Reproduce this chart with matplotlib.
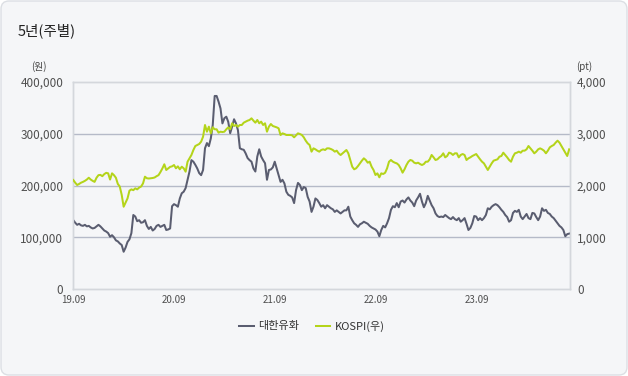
import matplotlib
matplotlib.use('Agg')
import matplotlib.pyplot as plt
import pandas as pd
from matplotlib.patches import FancyBboxPatch
from matplotlib.ticker import FuncFormatter

plt.rcParams['font.family'] = ['Noto Sans CJK KR', 'DejaVu Sans']

# weekly closes, 대한유화 in thousand won, KOSPI in points
stock_k = [133, 128, 124, 126, 123, 122, 124, 121, 122, 119,
           117, 118, 121, 124, 121, 117, 113, 111, 108, 101,
           104, 100, 94, 92, 88, 85, 72, 80, 91, 96,
           108, 143, 140, 131, 133, 128, 129, 133, 122, 116,
           120, 113, 116, 122, 124, 120, 122, 124, 114, 115,
           117, 160,
           164, 162, 159, 175, 185, 188, 195, 211, 227, 249,
           246, 240, 233, 224, 220, 230, 272, 282, 276, 291,
           317, 373, 373, 362, 349, 320, 330, 333, 323, 301,
           314, 328, 320, 307, 272, 270, 269, 262, 253, 249,
           246, 233, 227, 256, 270, 256, 249, 243, 211, 230,
           231, 235, 246,
           233, 220, 207, 211, 204, 188, 182, 180, 177, 166,
           191, 205, 201, 191, 197, 195, 178, 169, 149, 159,
           175, 172, 166, 159, 162, 156, 162, 159, 156, 154,
           149, 152, 149, 146, 149, 152, 152, 159, 140, 133,
           127, 124, 120, 125, 127, 130, 128, 126, 122, 119,
           117,
           115, 111, 102, 114, 122, 119, 127, 137, 153, 160,
           158, 166, 158, 169, 171, 167, 173, 177, 171, 167,
           160, 171, 177, 184, 169, 158, 166, 180, 171, 162,
           156, 146, 141, 139, 140, 139, 143, 140, 137, 135,
           139, 135, 133, 137, 130, 133, 137, 126, 114, 118,
           127, 141,
           140, 133, 137, 133, 137, 143, 156, 154, 159, 162,
           164, 162, 158, 153, 149, 143, 139, 130, 133, 147,
           151, 149, 153, 140, 135, 140, 145, 137, 135, 147,
           146, 139, 133, 140, 156, 151, 153, 147, 145, 140,
           137, 132, 127, 122, 119, 114, 102, 106, 107]

kospi = [2106, 2054, 2010, 2030, 2054, 2070, 2090, 2115, 2150, 2115,
         2090, 2070, 2150, 2200, 2205, 2180, 2220, 2245, 2235, 2115,
         2235, 2200, 2150, 2030, 1980, 1820, 1590, 1670, 1750, 1900,
         1925, 1910, 1945, 1925, 1960, 1980, 2040, 2170, 2140, 2135,
         2140, 2145, 2155, 2180, 2200, 2260, 2330, 2410, 2300, 2330,
         2360, 2370,
         2396, 2332, 2370, 2313, 2363, 2332, 2267, 2460, 2525, 2590,
         2686, 2763, 2783, 2802, 2847, 2943, 3169, 3040, 3137, 3008,
         3124, 3086, 3086, 3021, 3040, 3033, 3040, 3086, 3124, 3086,
         3202, 3150, 3169, 3137, 3169, 3169, 3214, 3234, 3253, 3266,
         3298, 3253, 3214, 3266, 3202, 3234, 3169, 3202, 3040, 3137,
         3188, 3150, 3137,
         3124, 3105, 2976, 3008, 2995, 2976, 2976, 2976, 2970, 2931,
         2970, 3008, 2995, 2976, 2931, 2866, 2815, 2783, 2654, 2718,
         2699, 2673, 2654, 2686, 2699, 2686, 2718, 2718, 2705, 2686,
         2654, 2673, 2621, 2589, 2621, 2654, 2686, 2621, 2493, 2364,
         2313, 2332, 2377, 2428, 2480, 2525, 2493, 2441, 2460, 2364,
         2300,
         2203, 2235, 2158, 2235, 2222, 2247, 2332, 2460, 2493, 2460,
         2441, 2428, 2396, 2332, 2248, 2313, 2396, 2460, 2493, 2480,
         2441, 2428, 2441, 2415, 2396, 2415, 2460, 2460, 2506, 2590,
         2544, 2493, 2506, 2544, 2570, 2622, 2544, 2570, 2635, 2622,
         2590, 2622, 2622, 2544, 2590, 2608, 2590, 2493, 2525, 2544,
         2570, 2590,
         2608, 2557, 2506, 2460, 2428, 2364, 2300, 2364, 2428, 2480,
         2493, 2506, 2557, 2570, 2634, 2590, 2544, 2493, 2460, 2557,
         2622, 2634, 2654, 2634, 2673, 2673, 2699, 2763, 2718, 2673,
         2622, 2654, 2699, 2718, 2699, 2673, 2622, 2673, 2737, 2763,
         2783, 2828, 2866, 2828, 2763, 2699, 2634, 2570, 2699]

tick_dates = ['2019-09-01', '2020-09-01', '2021-09-01', '2022-09-01', '2023-09-01']
tick_labels = ['19.09', '20.09', '21.09', '22.09', '23.09']
series_names = ['대한유화', 'KOSPI(우)']

dates = pd.date_range('2019-09-02', periods=len(stock_k), freq='7D')
stock = [v * 1000 for v in stock_k]

W, H = 628, 376
fig = plt.figure(figsize=(W / 100, H / 100), dpi=100)
fig.patch.set_facecolor('white')
card = FancyBboxPatch((0.01, 0.01), W / 100 - 0.02, H / 100 - 0.02,
                      boxstyle='round,pad=0,rounding_size=0.08',
                      transform=fig.dpi_scale_trans,
                      facecolor='#f5f6f8', edgecolor='#dcdfe4', lw=1,
                      zorder=-10)
fig.patches.append(card)

fig.text(18 / W, 1 - 31 / H, '5년(주별)', fontsize=10.5, color='#222222',
         va='center', ha='left')

ax = fig.add_axes([73 / W, 1 - 289 / H, 497 / W, 207 / H])
ax.set_facecolor('none')
ax2 = ax.twinx()

l1, = ax.plot(dates, stock, color='#5a5d70', lw=1.45, zorder=3)
l2, = ax2.plot(dates, kospi, color='#b4d41a', lw=1.45, zorder=3)

ax.set_xlim(pd.Timestamp('2019-09-01'), pd.Timestamp('2024-08-01'))
ax.set_ylim(0, 400000)
ax2.set_ylim(0, 4000)
ax.set_yticks([0, 100000, 200000, 300000, 400000])
ax2.set_yticks([0, 1000, 2000, 3000, 4000])
ax.yaxis.set_major_formatter(FuncFormatter(lambda v, p: f'{int(v):,}'))
ax2.yaxis.set_major_formatter(FuncFormatter(lambda v, p: f'{int(v):,}'))
ax.set_xticks(pd.to_datetime(tick_dates))
ax.set_xticklabels(tick_labels)

ax.tick_params(axis='y', length=0, pad=7, labelsize=8.5, labelcolor='#505050')
ax2.tick_params(axis='y', length=0, pad=5, labelsize=8.5, labelcolor='#505050')
ax.tick_params(axis='x', length=0, pad=4, labelsize=7, labelcolor='#505050')

for a in (ax, ax2):
    for s in a.spines.values():
        s.set_color('#d4d7dc')
        s.set_linewidth(1)

for g in [100000, 200000, 300000]:
    ax.axhline(g, color='#b5bac8', lw=1, zorder=1)

fig.text(39 / W, 1 - 67 / H, '(원)', fontsize=7, color='#444444',
         ha='center', va='center')
fig.text(584 / W, 1 - 67 / H, '(pt)', fontsize=7, color='#444444',
         ha='center', va='center')

fig.legend([l1, l2], series_names, loc='center',
           bbox_to_anchor=(312 / W, 1 - 326 / H), ncol=2, frameon=False,
           fontsize=8, handlelength=1.3, handletextpad=0.4, columnspacing=1.5,
           labelcolor='#333333')

fig.savefig('out.png', dpi=100, facecolor=fig.get_facecolor())
